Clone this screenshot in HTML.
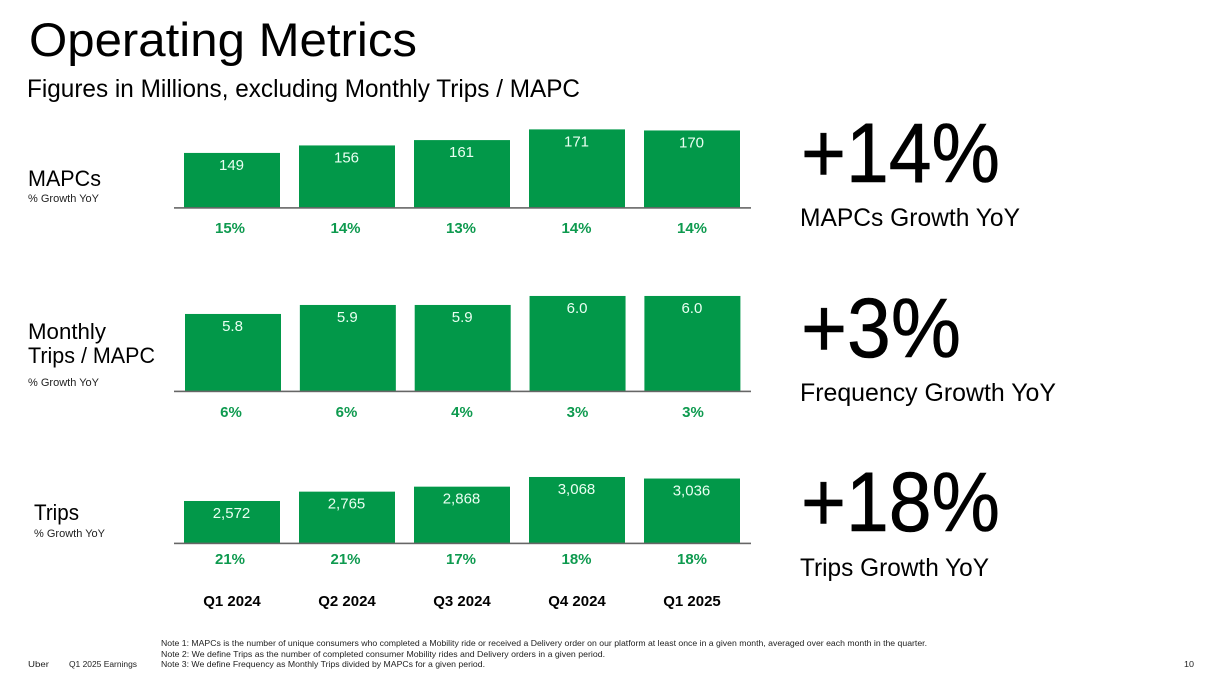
<!DOCTYPE html>
<html lang="en">
<head>
<meta charset="utf-8">
<title>Operating Metrics</title>
<style>
html,body{margin:0;padding:0;background:#fff;width:1216px;height:682px;overflow:hidden}
svg{display:block}
text{font-family:"Liberation Sans",sans-serif;fill:#000}
.val{fill:#eafff2;font-size:15px;text-anchor:middle}
.grow{fill:#0e9a4f;font-size:15px;font-weight:bold;text-anchor:middle}
.qtr{font-size:15px;font-weight:bold;text-anchor:middle}
.big{font-size:84px;stroke:#000;stroke-width:.6px}
.cap{font-size:25px}
.lab{font-size:22.5px}
.sub{font-size:11px;fill:#222}
.note{font-size:8.6px;fill:#222}
</style>
</head>
<body>
<svg id="slide" width="1216" height="682" viewBox="0 0 1216 682" xmlns="http://www.w3.org/2000/svg">
  <text x="29" y="56" font-size="47" textLength="388" lengthAdjust="spacingAndGlyphs">Operating Metrics</text>
  <text x="27" y="97" font-size="25" textLength="553" lengthAdjust="spacingAndGlyphs">Figures in Millions, excluding Monthly Trips / MAPC</text>

  <text class="lab" x="28" y="186" textLength="73" lengthAdjust="spacingAndGlyphs">MAPCs</text>
  <text class="sub" x="28" y="202" textLength="71" lengthAdjust="spacingAndGlyphs">% Growth YoY</text>
  <text class="lab" x="28" y="339" textLength="78" lengthAdjust="spacingAndGlyphs">Monthly</text>
  <text class="lab" x="28" y="363" textLength="127" lengthAdjust="spacingAndGlyphs">Trips / MAPC</text>
  <text class="sub" x="28" y="386" textLength="71" lengthAdjust="spacingAndGlyphs">% Growth YoY</text>
  <text class="lab" x="34" y="520" textLength="45" lengthAdjust="spacingAndGlyphs">Trips</text>
  <text class="sub" x="34" y="537" textLength="71" lengthAdjust="spacingAndGlyphs">% Growth YoY</text>

  <g id="charts"></g>

  <text class="big" x="801" y="182" textLength="199" lengthAdjust="spacingAndGlyphs">+14%</text>
  <text class="cap" x="800" y="226" textLength="220" lengthAdjust="spacingAndGlyphs">MAPCs Growth YoY</text>
  <text class="big" x="801" y="357" textLength="160" lengthAdjust="spacingAndGlyphs">+3%</text>
  <text class="cap" x="800" y="401" textLength="256" lengthAdjust="spacingAndGlyphs">Frequency Growth YoY</text>
  <text class="big" x="801" y="531" textLength="199" lengthAdjust="spacingAndGlyphs">+18%</text>
  <text class="cap" x="800" y="576" textLength="189" lengthAdjust="spacingAndGlyphs">Trips Growth YoY</text>

  <text class="note" x="161" y="646" textLength="766" lengthAdjust="spacingAndGlyphs">Note 1: MAPCs is the number of unique consumers who completed a Mobility ride or received a Delivery order on our platform at least once in a given month, averaged over each month in the quarter.</text>
  <text class="note" x="161" y="657" textLength="444" lengthAdjust="spacingAndGlyphs">Note 2: We define Trips as the number of completed consumer Mobility rides and Delivery orders in a given period.</text>
  <text class="note" x="161" y="667" textLength="324" lengthAdjust="spacingAndGlyphs">Note 3: We define Frequency as Monthly Trips divided by MAPCs for a given period.</text>
  <text class="note" x="28" y="667" textLength="21" lengthAdjust="spacingAndGlyphs">Uber</text>
  <text class="note" x="69" y="667" textLength="68" lengthAdjust="spacingAndGlyphs">Q1 2025 Earnings</text>
  <text class="note" x="1184" y="667" textLength="10" lengthAdjust="spacingAndGlyphs">10</text>
</svg>
<script>
const quarters = ["Q1 2024", "Q2 2024", "Q3 2024", "Q4 2024", "Q1 2025"];
const mapcValues = [149, 156, 161, 171, 170];
const mapcLabels = ["149", "156", "161", "171", "170"];
const mapcGrowth = ["15%", "14%", "13%", "14%", "14%"];
const freqValues = [5.8, 5.9, 5.9, 6.0, 6.0];
const freqLabels = ["5.8", "5.9", "5.9", "6.0", "6.0"];
const freqGrowth = ["6%", "6%", "4%", "3%", "3%"];
const tripValues = [2572, 2765, 2868, 3068, 3036];
const tripLabels = ["2,572", "2,765", "2,868", "3,068", "3,036"];
const tripGrowth = ["21%", "21%", "17%", "18%", "18%"];

const NS = "http://www.w3.org/2000/svg";
const root = document.getElementById("charts");

function axisY(baseline, min, scale) {
  return function (v) { return baseline - (v - min) * scale; };
}
function axisX(left, step, i) {
  return left + i * step;
}
function drawChart(values, labels, growth, cfg) {
  const y = axisY(cfg.baseline, cfg.min, cfg.scale);
  values.forEach(function (v, i) {
    const x = axisX(cfg.left, cfg.step, i);
    const top = y(v);
    const r = document.createElementNS(NS, "rect");
    r.setAttribute("x", x);
    r.setAttribute("y", top);
    r.setAttribute("width", 96);
    r.setAttribute("height", cfg.baseline - top);
    r.setAttribute("fill", "#029849");
    
    
    root.appendChild(r);

    const t = document.createElementNS(NS, "text");
    t.setAttribute("class", "val");
    t.setAttribute("x", x + 47.5);
    t.setAttribute("y", top + 17);
    t.textContent = labels[i];
    
    
    root.appendChild(t);

    const g = document.createElementNS(NS, "text");
    g.setAttribute("class", "grow");
    g.setAttribute("x", axisX(cfg.growthLeft, 115.5, i));
    g.setAttribute("y", cfg.growthY);
    g.textContent = growth[i];
    
    
    root.appendChild(g);
  });
  const line = document.createElementNS(NS, "rect");
  line.setAttribute("x", 174);
  line.setAttribute("y", cfg.baseline - 0.4);
  line.setAttribute("width", 577);
  line.setAttribute("height", 1.6);
  line.setAttribute("fill", "#666");
  
  
  root.appendChild(line);
}

drawChart(mapcValues, mapcLabels, mapcGrowth, {left: 184, step: 115, growthLeft: 230, baseline: 207.5, min: 98, scale: 1.07, growthY: 233});
drawChart(freqValues, freqLabels, freqGrowth, {left: 185, step: 114.85, growthLeft: 231, baseline: 391, min: 4.944, scale: 90, growthY: 417});
drawChart(tripValues, tripLabels, tripGrowth, {left: 184, step: 115, growthLeft: 230, baseline: 543, min: 1704, scale: 0.0484, growthY: 564});

quarters.forEach(function (q, i) {
  const t = document.createElementNS(NS, "text");
  t.setAttribute("class", "qtr");
  t.setAttribute("x", axisX(232, 115, i));
  t.setAttribute("y", 606);
  t.textContent = q;
  
  
  root.appendChild(t);
});
</script>
</body>
</html>
